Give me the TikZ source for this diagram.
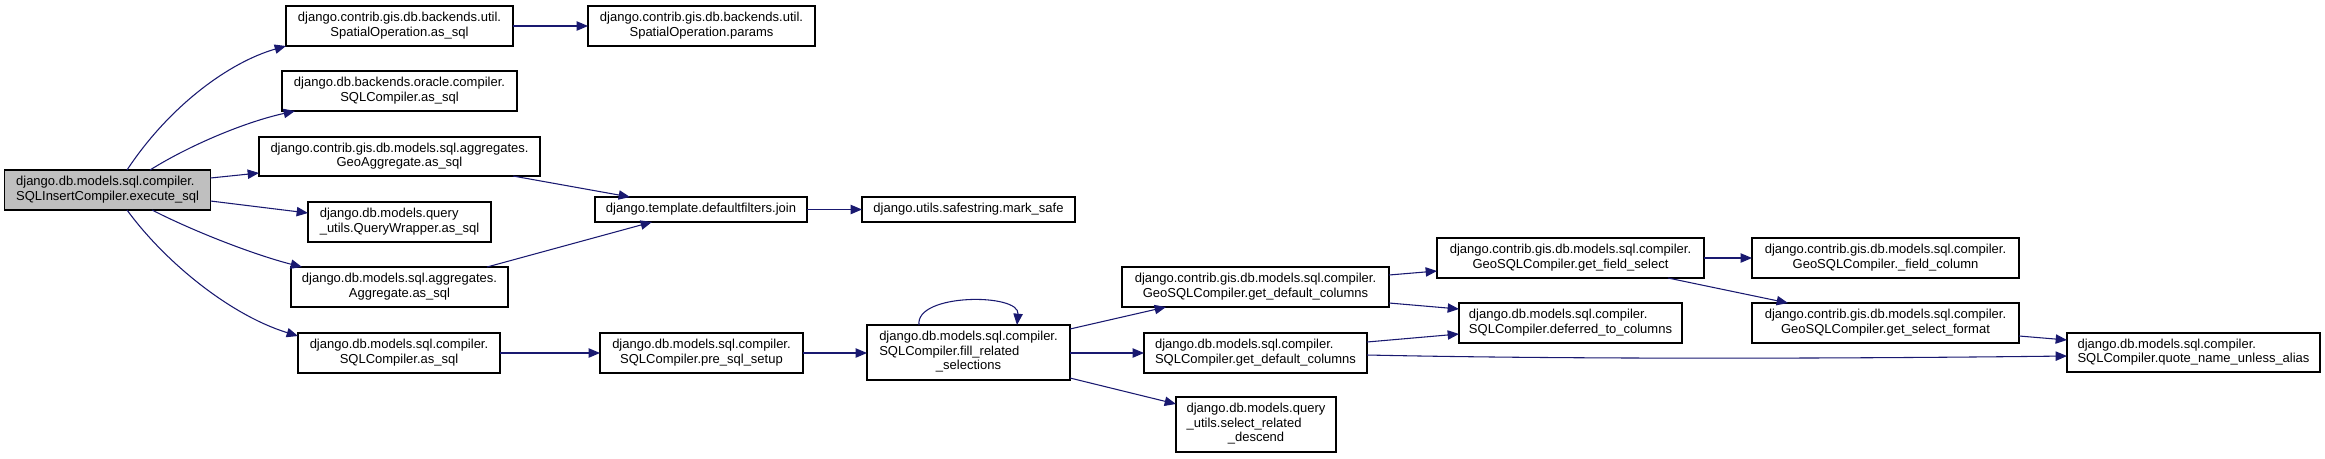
\documentclass[tikz,border=0pt]{standalone}
\usepackage{fontspec}
\setmainfont{Liberation Sans}
\usetikzlibrary{arrows.meta}
\definecolor{edgec}{HTML}{191970}
\definecolor{rootfill}{HTML}{BFBFBF}
\newcommand\tl[2]{\begin{tabular}{@{}l@{}}#1\\\multicolumn{1}{@{}c@{}}{#2}\end{tabular}}
\newcommand\gnode[7][]{%
  \node[gbox,#1,minimum width={(#5-#3)*0.75pt},minimum height={(#6-#4)*0.75pt}] (#2) at ({(#3+#5)/2},{(#4+#6)/2}) {#7};}
\tikzset{
  gbox/.style={draw=black,line width=0.9pt,fill=white,inner sep=0pt,outer sep=0pt,
    font=\fontsize{9.75pt}{10.9pt}\selectfont,align=center},
  rootbox/.style={fill=rootfill},
  edge/.style={draw=edgec,line width=0.8pt,-{Triangle[length=8.5pt,width=7pt]}}
}
\begin{document}
\begin{tikzpicture}[x=0.75pt,y=-0.75pt]
\useasboundingbox (0,0) rectangle (2325,458);
\gnode[rootbox]{root}{4.6}{170}{210.5}{210}{\tl{django.db.models.sql.compiler.}{SQLInsertCompiler.execute\_sql}}
\gnode{so}{286}{6}{513}{46}{\tl{django.contrib.gis.db.backends.util.}{SpatialOperation.as\_sql}}
\gnode{params}{588}{6}{815}{46}{\tl{django.contrib.gis.db.backends.util.}{SpatialOperation.params}}
\gnode{oracle}{282}{71}{517}{111}{\tl{django.db.backends.oracle.compiler.}{SQLCompiler.as\_sql}}
\gnode{geoagg}{259}{137}{540}{176}{\tl{django.contrib.gis.db.models.sql.aggregates.}{GeoAggregate.as\_sql}}
\gnode{qw}{308}{202}{491}{242}{\tl{django.db.models.query}{\_utils.QueryWrapper.as\_sql}}
\gnode{agg}{291}{267}{508}{307}{\tl{django.db.models.sql.aggregates.}{Aggregate.as\_sql}}
\gnode{sqlc}{298}{333}{500}{373}{\tl{django.db.models.sql.compiler.}{SQLCompiler.as\_sql}}
\gnode{join}{595}{197}{807}{222}{django.template.defaultfilters.join}
\gnode{mark}{862}{197}{1075}{222}{django.utils.safestring.mark\_safe}
\gnode{pre}{600}{333}{803}{373}{\tl{django.db.models.sql.compiler.}{SQLCompiler.pre\_sql\_setup}}
\gnode{fill}{867}{325}{1070}{380}{\tl{django.db.models.sql.compiler.\\SQLCompiler.fill\_related}{\_selections}}
\gnode{geogdc}{1122}{267}{1389}{307}{\tl{django.contrib.gis.db.models.sql.compiler.}{GeoSQLCompiler.get\_default\_columns}}
\gnode{sqlgdc}{1144}{333}{1367}{373}{\tl{django.db.models.sql.compiler.}{SQLCompiler.get\_default\_columns}}
\gnode{srd}{1176}{397}{1336}{452}{\tl{django.db.models.query\\\_utils.select\_related}{\_descend}}
\gnode{gfs}{1437}{238}{1704}{278}{\tl{django.contrib.gis.db.models.sql.compiler.}{GeoSQLCompiler.get\_field\_select}}
\gnode{dtc}{1459}{303}{1682}{343}{\tl{django.db.models.sql.compiler.}{SQLCompiler.deferred\_to\_columns}}
\gnode{fcol}{1752}{238}{2019}{278}{\tl{django.contrib.gis.db.models.sql.compiler.}{GeoSQLCompiler.\_field\_column}}
\gnode{gsf}{1752}{303}{2019}{343}{\tl{django.contrib.gis.db.models.sql.compiler.}{GeoSQLCompiler.get\_select\_format}}
\gnode{qnua}{2067}{333}{2320}{372}{\tl{django.db.models.sql.compiler.}{SQLCompiler.quote\_name\_unless\_alias}}

\draw[edge] (root.north -| 127,0) .. controls (170,105) and (230,62) .. (so.south west);
\draw[edge] (root.north -| 150,0) .. controls (190,145) and (245,122) .. (oracle.south -| 295,0);
\draw[edge] (root.east |- 0,178) -- (geoagg.west |- 0,173);
\draw[edge] (root.east |- 0,201) -- (qw.west |- 0,213);
\draw[edge] (root.south -| 152,0) .. controls (195,232) and (255,255) .. (agg.north -| 302,0);
\draw[edge] (root.south -| 127,0) .. controls (165,262) and (230,315) .. (sqlc.west |- 0,336);
\draw[edge] (so.east) -- (params.west);
\draw[edge] (geoagg.south -| 513,0) -- (join.north -| 630,0);
\draw[edge] (agg.north -| 487,0) -- (join.south -| 652,0);
\draw[edge] (join.east) -- (mark.west);
\draw[edge] (sqlc.east) -- (pre.west);
\draw[edge] (pre.east) -- (fill.west |- pre.east);
\draw[edge] (fill.north -| 919,0) .. controls (915,293) and (1020,293) .. (fill.north -| 1017,0);
\draw[edge] (fill.east |- 0,329) -- (geogdc.south -| 1166,0);
\draw[edge] (fill.east |- sqlgdc.west) -- (sqlgdc.west);
\draw[edge] (fill.east |- 0,378) -- (srd.west |- 0,404);
\draw[edge] (geogdc.east |- 0,275) -- (gfs.west |- 0,271);
\draw[edge] (geogdc.east |- 0,303) -- (dtc.west |- 0,309);
\draw[edge] (sqlgdc.east |- 0,342) -- (dtc.west |- 0,334);
\draw[edge] (sqlgdc.east |- 0,355) .. controls (1600,360) and (1900,358) .. (qnua.west |- 0,356);
\draw[edge] (gfs.east) -- (fcol.west);
\draw[edge] (gfs.south -| 1668,0) -- (gsf.north -| 1788,0);
\draw[edge] (gsf.east |- 0,336) -- (qnua.west |- 0,340);
\end{tikzpicture}
\end{document}
